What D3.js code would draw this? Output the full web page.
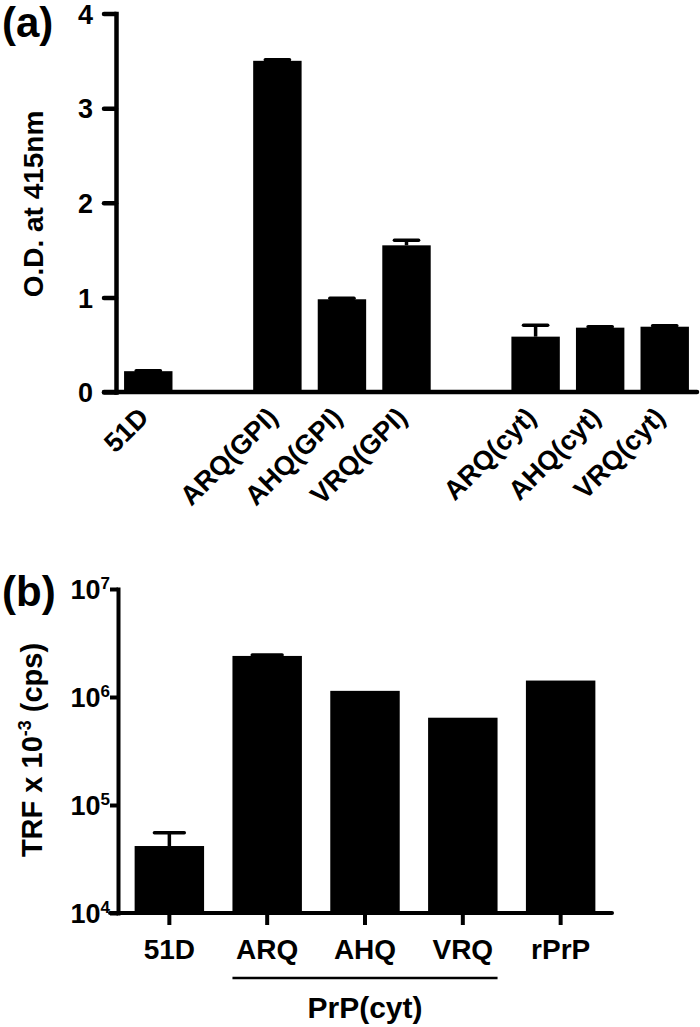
<!DOCTYPE html>
<html>
<head>
<meta charset="utf-8">
<script src="https://cdn.jsdelivr.net/npm/d3@7"></script>
<style>
  html, body { margin: 0; padding: 0; background: #fff; }
  svg { display: block; }
  text { font-family: "Liberation Sans", Arial, Helvetica, sans-serif; font-weight: bold; fill: #000; }
</style>
</head>
<body>
<svg id="chart" width="700" height="1027"></svg>
<script>
// ---------- Panel (a) data ----------
const categoriesA = ["51D", "ARQ(GPI)", "AHQ(GPI)", "VRQ(GPI)", "ARQ(cyt)", "AHQ(cyt)", "VRQ(cyt)"];
const groupsA     = [0, 1, 1, 1, 2, 2, 2];
const valuesA     = [0.22, 3.50, 0.98, 1.55, 0.585, 0.68, 0.69];
const errorsA     = [0.005, 0.012, 0.01, 0.055, 0.12, 0.01, 0.01];
const yTicksA     = [0, 1, 2, 3, 4];
const yLabelA     = "O.D. at 415nm";

// ---------- Panel (b) data ----------
const categoriesB   = ["51D", "ARQ", "AHQ", "VRQ", "rPrP"];
const valuesB       = [41700, 2.40e6, 1.14e6, 6.43e5, 1.42e6];
const errorsB       = [13700, 5.0e4, 0, 0, 0];
const yTicksB       = [1e4, 1e5, 1e6, 1e7];
const groupMembersB = ["ARQ", "AHQ", "VRQ"];
const groupLabelB   = "PrP(cyt)";

const svg = d3.select("#chart");
const black = "#000";

// ================= Panel (a) =================
(function () {
  const domain = [];
  categoriesA.forEach((c, i) => {
    if (i > 0 && groupsA[i] !== groupsA[i - 1]) domain.push("__gap" + i);
    domain.push(c);
  });
  const x = d3.scaleBand().domain(domain).range([116, 697]).paddingInner(0.25).paddingOuter(0.125);
  const y = d3.scaleLinear().domain([0, 4]).range([392, 13.5]);
  const g = svg.append("g");

  const data = categoriesA.map((c, i) => ({ c, v: valuesA[i], e: errorsA[i] }));
  g.selectAll("rect.bar").data(data).join("rect")
    .attr("class", "bar")
    .attr("x", d => x(d.c)).attr("width", x.bandwidth())
    .attr("y", d => y(d.v)).attr("height", d => y(0) - y(d.v))
    .attr("fill", black);

  const capW = x.bandwidth() * 0.5;
  const eb = g.selectAll("g.err").data(data).join("g").attr("class", "err");
  eb.append("line")
    .attr("x1", d => x(d.c) + x.bandwidth() / 2).attr("x2", d => x(d.c) + x.bandwidth() / 2)
    .attr("y1", d => y(d.v)).attr("y2", d => y(d.v + d.e))
    .attr("stroke", black).attr("stroke-width", 3.5);
  eb.append("line")
    .attr("x1", d => x(d.c) + x.bandwidth() / 2 - capW / 2).attr("x2", d => x(d.c) + x.bandwidth() / 2 + capW / 2)
    .attr("y1", d => y(d.v + d.e)).attr("y2", d => y(d.v + d.e))
    .attr("stroke", black).attr("stroke-width", 3.5).attr("stroke-linecap", "round");

  const yAxis = d3.axisLeft(y).tickValues(yTicksA).tickFormat(d3.format("d")).tickSize(12).tickSizeOuter(0).tickPadding(11);
  const ga = g.append("g").attr("transform", "translate(116,0)").call(yAxis);
  ga.select(".domain").attr("stroke", black).attr("stroke-width", 4.5).attr("stroke-linecap", "square");
  ga.selectAll(".tick line").attr("stroke", black).attr("stroke-width", 4.5).attr("stroke-linecap", "round");
  ga.selectAll(".tick text").attr("font-size", 27).attr("font-family", null).attr("dy", "0.36em");

  g.append("line").attr("x1", 104).attr("x2", 697).attr("y1", y(0)).attr("y2", y(0))
    .attr("stroke", black).attr("stroke-width", 4.5).attr("stroke-linecap", "round");

  g.selectAll("text.xl").data(categoriesA).join("text")
    .attr("class", "xl")
    .attr("font-size", 27)
    .attr("text-anchor", "end")
    .attr("transform", d => `translate(${x(d) + x.bandwidth() / 2 + 2},${y(0) + 27}) rotate(-45)`)
    .text(d => d);

  g.append("text").attr("font-size", 28).attr("text-anchor", "middle")
    .attr("transform", "translate(43,204) rotate(-90)").text(yLabelA);

  g.append("text").attr("font-size", 42).attr("x", 2).attr("y", 37).text("(a)");
})();

// ================= Panel (b) =================
(function () {
  const x = d3.scaleBand().domain(categoriesB).range([118, 612]).paddingInner(0.29).paddingOuter(0.17);
  const y = d3.scaleLog().domain([1e4, 1e7]).range([913, 589]);
  const g = svg.append("g");
  const data = categoriesB.map((c, i) => ({ c, v: valuesB[i], e: errorsB[i] }));

  g.selectAll("rect.bar").data(data).join("rect")
    .attr("class", "bar")
    .attr("x", d => x(d.c)).attr("width", x.bandwidth())
    .attr("y", d => y(d.v)).attr("height", d => y(1e4) - y(d.v))
    .attr("fill", black);

  const capW = x.bandwidth() * 0.43;
  const eb = g.selectAll("g.err").data(data.filter(d => d.e > 0)).join("g").attr("class", "err");
  eb.append("line")
    .attr("x1", d => x(d.c) + x.bandwidth() / 2).attr("x2", d => x(d.c) + x.bandwidth() / 2)
    .attr("y1", d => y(d.v)).attr("y2", d => y(d.v + d.e))
    .attr("stroke", black).attr("stroke-width", 3.5);
  eb.append("line")
    .attr("x1", d => x(d.c) + x.bandwidth() / 2 - capW / 2).attr("x2", d => x(d.c) + x.bandwidth() / 2 + capW / 2)
    .attr("y1", d => y(d.v + d.e)).attr("y2", d => y(d.v + d.e))
    .attr("stroke", black).attr("stroke-width", 3.5).attr("stroke-linecap", "round");

  const yAxis = d3.axisLeft(y).tickValues(yTicksB).tickFormat("").tickSize(8).tickSizeOuter(0);
  const ga = g.append("g").attr("transform", "translate(118,0)").call(yAxis);
  ga.select(".domain").attr("stroke", black).attr("stroke-width", 4).attr("stroke-linecap", "square");
  ga.selectAll(".tick line").attr("stroke", black).attr("stroke-width", 4);
  const tl = g.selectAll("text.yl").data(yTicksB).join("text")
    .attr("class", "yl").attr("text-anchor", "end").attr("font-size", 27)
    .attr("x", 110).attr("y", d => y(d) + 10);
  tl.append("tspan").text("10");
  tl.append("tspan").attr("font-size", 17).attr("dy", -10).text(d => Math.round(Math.log10(d)));

  const xAxis = d3.axisBottom(x).tickSize(12).tickSizeOuter(0).tickPadding(14);
  const gx = g.append("g").attr("transform", `translate(0,${y(1e4)})`).call(xAxis);
  gx.select(".domain").remove();
  gx.selectAll(".tick line").attr("stroke", black).attr("stroke-width", 4);
  gx.selectAll(".tick text").attr("font-size", 28).attr("font-family", null).attr("dy", "0.71em");
  g.append("line").attr("x1", 110).attr("x2", 612).attr("y1", y(1e4)).attr("y2", y(1e4))
    .attr("stroke", black).attr("stroke-width", 4).attr("stroke-linecap", "round");

  const gx0 = x(groupMembersB[0]);
  const gx1 = x(groupMembersB[groupMembersB.length - 1]) + x.bandwidth();
  g.append("line").attr("x1", gx0).attr("x2", gx1).attr("y1", 978).attr("y2", 978)
    .attr("stroke", black).attr("stroke-width", 2.5);
  g.append("text").attr("font-size", 30).attr("text-anchor", "middle")
    .attr("x", (gx0 + gx1) / 2).attr("y", 1018).text(groupLabelB);

  const yl = g.append("text").attr("font-size", 29).attr("text-anchor", "middle")
    .attr("transform", "translate(42,750) rotate(-90)");
  yl.append("tspan").text("TRF x 10");
  yl.append("tspan").attr("font-size", 18).attr("dy", -11).text("-3");
  yl.append("tspan").attr("dy", 11).text(" (cps)");

  g.append("text").attr("font-size", 42).attr("x", 2).attr("y", 606).text("(b)");
})();
</script>
</body>
</html>
